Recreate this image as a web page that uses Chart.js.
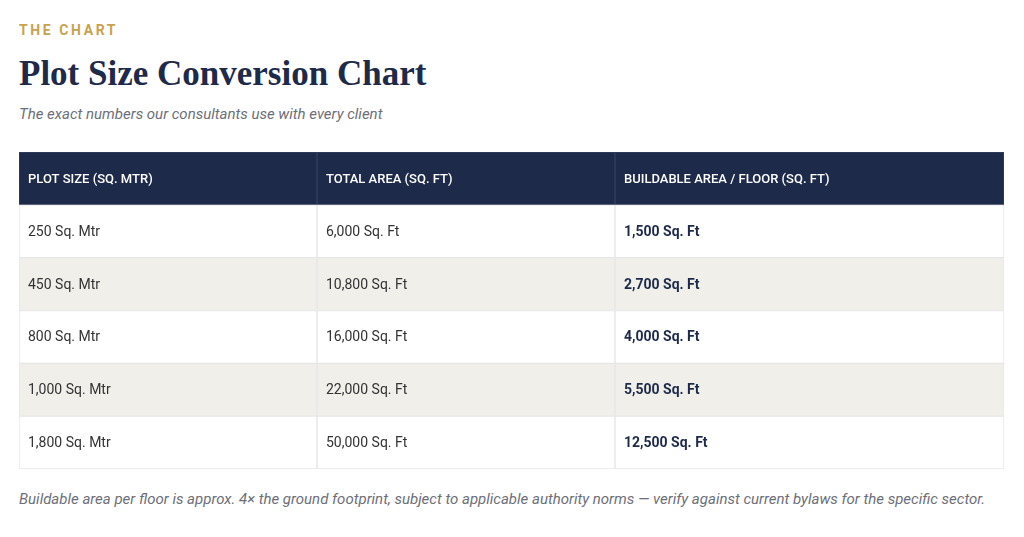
<!DOCTYPE html>
<html>
<head>
<meta charset="utf-8">
<script src="https://cdn.jsdelivr.net/npm/chart.js@4/dist/chart.umd.min.js"></script>
<style>
  body { margin: 0; background: #fff; font-family: Roboto, sans-serif; }
  .eyebrow { position: absolute; left: 19px; top: 22px; font: 700 14px Roboto; letter-spacing: 2.6px; color: #c9a24d; }
  h1 { position: absolute; left: 19px; top: 54px; margin: 0; font: 700 35px "Liberation Serif", serif; color: #1e2a4a; }
  .sub { position: absolute; left: 19px; top: 105px; font: italic 15px Roboto; color: #6d6f78; }
  #wrap { position: absolute; left: 19px; top: 152px; width: 985px; height: 317px; }
  .note { position: absolute; left: 19px; top: 489px; width: 990px; font: italic 15px/20px Roboto; color: #6d6f78; }
</style>
</head>
<body>
<div class="eyebrow">THE CHART</div>
<h1>Plot Size Conversion Chart</h1>
<div class="sub">The exact numbers our consultants use with every client</div>
<div id="wrap"><canvas id="table-chart"></canvas></div>
<div class="note">Buildable area per floor is approx. 4× the ground footprint, subject to applicable authority norms — verify against current bylaws for the specific sector.</div>
<script>
// Table data
const headers = ['PLOT SIZE (SQ. MTR)', 'TOTAL AREA (SQ. FT)', 'BUILDABLE AREA / FLOOR (SQ. FT)'];
const plotSizes = ['250 Sq. Mtr', '450 Sq. Mtr', '800 Sq. Mtr', '1,000 Sq. Mtr', '1,800 Sq. Mtr'];
const totalAreas = ['6,000 Sq. Ft', '10,800 Sq. Ft', '16,000 Sq. Ft', '22,000 Sq. Ft', '50,000 Sq. Ft'];
const buildable = ['1,500 Sq. Ft', '2,700 Sq. Ft', '4,000 Sq. Ft', '5,500 Sq. Ft', '12,500 Sq. Ft'];

// column layout (px along the x scale)
const colEdges = [0, 298, 596, 985];

const rows = ['header'].concat(plotSizes);
const columns = [headers, [headers[0]].concat(plotSizes), null];
const cellText = [
  [headers[0]].concat(plotSizes),
  [headers[1]].concat(totalAreas),
  [headers[2]].concat(buildable)
];

const rowColors = rows.map((r, i) => i === 0 ? '#1e2a4a' : (i % 2 === 0 ? '#f0efea' : '#ffffff'));

const datasets = [0, 1, 2].map(c => ({
  data: rows.map(() => [colEdges[c], colEdges[c + 1]]),
  backgroundColor: rowColors,
  borderColor: rows.map((r, i) => i === 0 ? '#34405e' : '#e6e6e6'),
  borderWidth: 1,
  borderSkipped: false,
  categoryPercentage: 1,
  barPercentage: 1,
  grouped: false
}));

const cellTextPlugin = {
  id: 'cellText',
  afterDatasetsDraw(chart) {
    const ctx = chart.ctx, xs = chart.scales.x, ys = chart.scales.y;
    ctx.save();
    ctx.textBaseline = 'middle';
    cellText.forEach((col, c) => {
      col.forEach((txt, r) => {
        const x = xs.getPixelForValue(colEdges[c]) + 9;
        const y = ys.getPixelForValue(r) + 1;
        if (r === 0) { ctx.font = '500 13px Roboto'; ctx.fillStyle = '#ffffff'; }
        else if (c === 2) { ctx.font = '700 14px Roboto'; ctx.fillStyle = '#1e2a4a'; }
        else { ctx.font = '400 14px Roboto'; ctx.fillStyle = '#333333'; }
        ctx.fillText(txt, x, y);
      });
    });
    ctx.restore();
  }
};

new Chart(document.getElementById('table-chart'), {
  type: 'bar',
  data: { labels: rows, datasets: datasets },
  options: {
    indexAxis: 'y',
    responsive: true,
    maintainAspectRatio: false,
    animation: false,
    layout: { padding: 0 },
    plugins: { legend: { display: false }, tooltip: { enabled: false } },
    scales: {
      x: { type: 'linear', min: 0, max: 985, display: false },
      y: { display: false }
    }
  },
  plugins: [cellTextPlugin]
});
</script>
</body>
</html>
